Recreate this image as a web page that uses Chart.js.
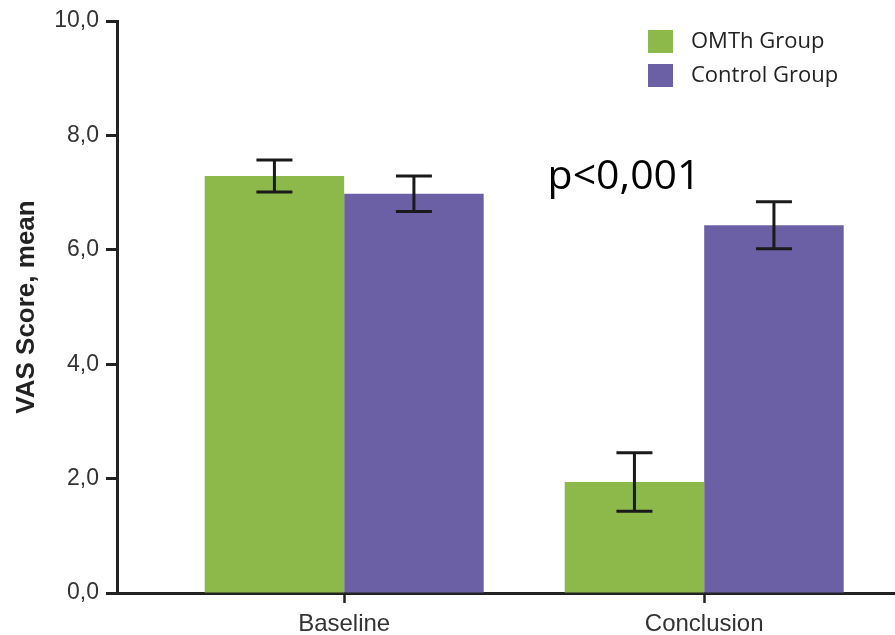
<!DOCTYPE html>
<html>
<head>
<meta charset="utf-8">
<script src="https://cdn.jsdelivr.net/npm/chart.js@4/dist/chart.umd.min.js"></script>
<style>
  html, body { margin: 0; padding: 0; background: #fff; }
  #wrap { width: 895px; height: 635px; position: relative; }
</style>
</head>
<body>
<div id="wrap"><canvas id="vasChart"></canvas></div>
<script>
// data
const categories = ['Baseline', 'Conclusion'];
const categoryPos = [1, 2];
const omthMeans = [7.29, 1.94];
const omthErrors = [0.28, 0.51];
const controlMeans = [6.98, 6.43];
const controlErrors = [0.31, 0.41];
const yTickValues = [0, 2, 4, 6, 8, 10];
const pValueText = 'p<0,001';

const GREEN = '#8db94b';
const PURPLE = '#6b5fa5';
const INK = '#222';

// error bars drawn on top of each bar
const errorBarPlugin = {
    id: 'errorBars',
    afterDatasetsDraw(chart) {
        const ctx = chart.ctx;
        const yScale = chart.scales.y;
        ctx.save();
        ctx.strokeStyle = '#1a1a1a';
        ctx.lineWidth = 3;
        chart.data.datasets.forEach((ds, di) => {
            const meta = chart.getDatasetMeta(di);
            meta.data.forEach((bar, i) => {
                const mean = ds.data[i].y;
                const err = ds.errors[i];
                const top = yScale.getPixelForValue(mean + err);
                const bottom = yScale.getPixelForValue(mean - err);
                const cap = 18;
                ctx.beginPath();
                ctx.moveTo(bar.x, top);
                ctx.lineTo(bar.x, bottom);
                ctx.moveTo(bar.x - cap, top);
                ctx.lineTo(bar.x + cap, top);
                ctx.moveTo(bar.x - cap, bottom);
                ctx.lineTo(bar.x + cap, bottom);
                ctx.stroke();
            });
        });
        ctx.restore();
    }
};

// legend in the top right corner + p-value note
const extrasPlugin = {
    id: 'extras',
    afterDraw(chart) {
        const ctx = chart.ctx;
        const area = chart.chartArea;
        ctx.save();
        // legend
        ctx.font = '22px "Open Sans"';
        ctx.textBaseline = 'middle';
        ctx.textAlign = 'left';
        chart.data.datasets.forEach((ds, i) => {
            const y = area.top + 9 + i * 34;
            ctx.fillStyle = ds.backgroundColor;
            ctx.fillRect(area.right - 247, y, 25, 23);
            ctx.fillStyle = INK;
            ctx.fillText(ds.label, area.right - 204, y + 12);
        });
        // p value
        ctx.font = '41px "Open Sans"';
        ctx.textBaseline = 'alphabetic';
        ctx.fillStyle = '#000';
        ctx.fillText(pValueText,
            chart.scales.x.getPixelForValue(1.565),
            chart.scales.y.getPixelForValue(7.07));
        ctx.restore();
    }
};

const ctx = document.getElementById('vasChart').getContext('2d');

new Chart(ctx, {
    type: 'bar',
    data: {
        datasets: [
            {
                label: 'OMTh Group',
                data: categoryPos.map((x, i) => ({ x: x, y: omthMeans[i] })),
                errors: omthErrors,
                backgroundColor: GREEN
            },
            {
                label: 'Control Group',
                data: categoryPos.map((x, i) => ({ x: x, y: controlMeans[i] })),
                errors: controlErrors,
                backgroundColor: PURPLE
            }
        ]
    },
    options: {
        responsive: true,
        maintainAspectRatio: false,
        animation: false,
        categoryPercentage: 0.775,
        barPercentage: 1.0,
        layout: { padding: { top: 21, right: 0, left: 0, bottom: 0 } },
        plugins: {
            legend: { display: false },
            tooltip: { enabled: false }
        },
        scales: {
            x: {
                type: 'linear',
                offset: false,
                min: 0.369,
                max: 2.53,
                afterBuildTicks: (scale) => {
                    scale.ticks = categoryPos.map(v => ({ value: v }));
                },
                afterFit: (scale) => { scale.height = 42; },
                grid: {
                    offset: false,
                    drawOnChartArea: false,
                    drawTicks: true,
                    tickLength: 10,
                    tickWidth: 2.5,
                    tickColor: INK
                },
                border: { display: true, color: INK, width: 3 },
                ticks: {
                    padding: 7,
                    color: '#333',
                    font: { family: '"Liberation Sans", Arial, sans-serif', size: 24 },
                    maxRotation: 0,
                    callback: (value) => categories[categoryPos.indexOf(value)]
                }
            },
            y: {
                min: 0,
                max: 10,
                afterBuildTicks: (scale) => {
                    scale.ticks = yTickValues.map(v => ({ value: v }));
                },
                afterFit: (scale) => { scale.width = 117; },
                grid: {
                    drawOnChartArea: false,
                    drawTicks: true,
                    tickLength: 11,
                    tickWidth: 3,
                    tickColor: INK
                },
                border: { display: true, color: INK, width: 3 },
                ticks: {
                    padding: 7,
                    color: '#333',
                    font: { family: '"Liberation Sans", Arial, sans-serif', size: 23 },
                    callback: (value) => value.toFixed(1).replace('.', ',')
                },
                title: {
                    display: true,
                    text: 'VAS Score, mean',
                    color: INK,
                    padding: { top: 11, bottom: 0 },
                    font: { family: '"Liberation Sans", Arial, sans-serif', size: 26, weight: 'bold' }
                }
            }
        }
    },
    plugins: [errorBarPlugin, extrasPlugin]
});
</script>
</body>
</html>
